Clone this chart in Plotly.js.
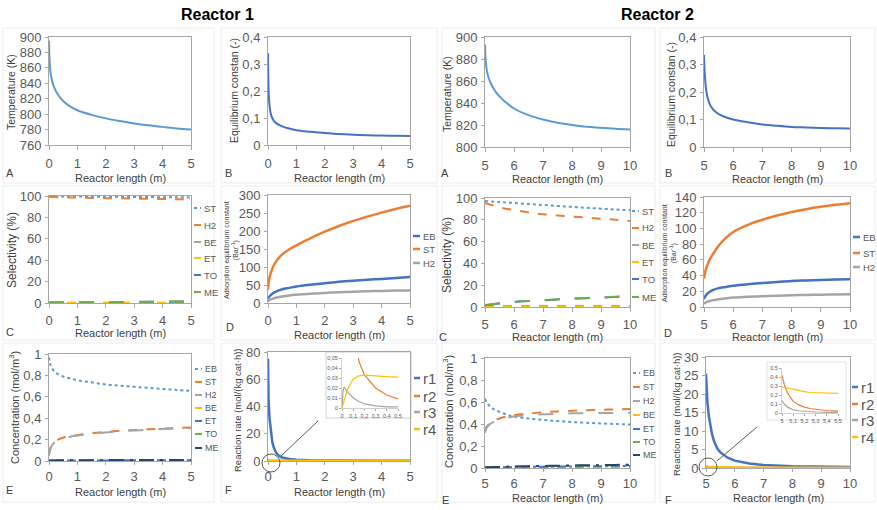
<!DOCTYPE html>
<html><head><meta charset="utf-8">
<script src="https://cdn.plot.ly/plotly-3.0.1.min.js"></script>
<style>html,body{margin:0;padding:0;background:#fff}#chart{width:877px;height:510px}</style>
</head><body><div id="chart"></div>
<script>
// ---------------- DATA ----------------
// A: temperature, B: equilibrium constant
const len_r1_A = [0, 0.01, 0.03, 0.06, 0.1, 0.15, 0.2, 0.3, 0.4, 0.5, 0.7, 1, 1.5, 2, 2.5, 3, 3.5, 4, 4.5, 5];
const temp_r1  = [895, 878, 864, 852, 845, 838, 833, 826, 821, 817, 811, 805, 799, 794.5, 791, 788, 785.5, 783.5, 781.5, 780];
const keq_r1   = [0.34, 0.25, 0.18, 0.14, 0.115, 0.1, 0.09, 0.08, 0.074, 0.069, 0.062, 0.055, 0.049, 0.044, 0.041, 0.038, 0.036, 0.035, 0.034, 0.033];
const len_r2_A = [5, 5.01, 5.03, 5.06, 5.1, 5.15, 5.2, 5.3, 5.4, 5.5, 5.7, 6, 6.5, 7, 7.5, 8, 8.5, 9, 9.5, 10];
const temp_r2  = [893, 885, 877, 870, 865, 861, 858, 853, 849, 846, 841, 835, 829, 825, 822, 820, 818.5, 817.5, 816.5, 816];
const keq_r2   = [0.335, 0.3, 0.26, 0.22, 0.19, 0.17, 0.155, 0.138, 0.128, 0.12, 0.11, 0.1, 0.09, 0.082, 0.077, 0.073, 0.071, 0.069, 0.068, 0.067];

// C: selectivity (%)
const len_r1_sel = [0, 0.5, 1, 1.5, 2, 2.5, 3, 3.5, 4, 4.5, 5];
const sel_r1_ST = [99.7, 99.6, 99.5, 99.4, 99.3, 99.2, 99.1, 99.0, 98.9, 98.8, 98.7];
const sel_r1_H2 = [99.2, 98.8, 98.5, 98.2, 98.0, 97.8, 97.6, 97.4, 97.2, 97.0, 96.8];
const sel_r1_BE = [0.3, 0.3, 0.3, 0.3, 0.3, 0.3, 0.3, 0.3, 0.3, 0.3, 0.3];
const sel_r1_ET = [0.1, 0.1, 0.1, 0.1, 0.1, 0.1, 0.1, 0.1, 0.1, 0.1, 0.1];
const sel_r1_TO = [0.4, 0.5, 0.6, 0.7, 0.8, 0.9, 1.0, 1.1, 1.2, 1.3, 1.4];
const sel_r1_ME = [0.5, 0.6, 0.7, 0.8, 0.9, 1.0, 1.1, 1.2, 1.3, 1.4, 1.6];
const len_r2_sel = [5, 5.5, 6, 6.5, 7, 7.5, 8, 8.5, 9, 9.5, 10];
const sel_r2_ST = [97.2, 96.3, 95.4, 94.5, 93.6, 92.7, 91.9, 91.0, 90.2, 89.4, 88.7];
const sel_r2_H2 = [95.4, 91.5, 88.9, 86.8, 85.1, 84.0, 83.0, 82.0, 81.0, 80.0, 79.0];
const sel_r2_BE = [1, 1, 1, 1, 1, 1, 1, 1, 1, 1, 1];
const sel_r2_ET = [0.2, 0.2, 0.2, 0.2, 0.2, 0.2, 0.2, 0.2, 0.2, 0.2, 0.2];
const sel_r2_TO = [1.5, 3.3, 4.6, 5.4, 6.1, 6.9, 7.6, 8.1, 8.6, 9.2, 9.8];
const sel_r2_ME = [1.8, 3.5, 4.8, 5.6, 6.3, 7.0, 7.7, 8.3, 8.8, 9.4, 10.0];

// D: adsorption equilibrium constant (Bar^-1)
const len_r1_ads = [0, 0.02, 0.05, 0.1, 0.2, 0.3, 0.5, 0.75, 1, 1.5, 2, 2.5, 3, 3.5, 4, 4.5, 5];
const ads_r1_EB = [12, 15, 18, 22, 28, 32, 38, 42, 46, 51, 55, 59, 62, 64.5, 67, 69.5, 72];
const ads_r1_ST = [37, 55, 70, 84, 104, 117, 135, 149, 160, 180, 198, 214, 228, 240, 251, 261, 270];
const ads_r1_H2 = [4, 6, 8, 10, 13, 15, 18, 21, 23, 26, 28, 30, 31.5, 32.5, 33.5, 34.5, 35];
const len_r2_ads = [5, 5.02, 5.05, 5.1, 5.2, 5.3, 5.5, 5.75, 6, 6.5, 7, 7.5, 8, 8.5, 9, 9.5, 10];
const ads_r2_EB = [10, 12, 14, 16.5, 19.5, 21.5, 24, 25.5, 27, 29, 30.5, 31.8, 33, 33.8, 34.5, 35, 35.3];
const ads_r2_ST = [36, 41, 46, 52, 61, 67, 78, 88, 95.5, 104.5, 111, 116.5, 121, 124.5, 127.5, 130, 132];
const ads_r2_H2 = [4, 4.8, 5.5, 6.5, 7.7, 8.5, 9.8, 11, 12, 13, 13.8, 14.4, 14.9, 15.3, 15.6, 15.9, 16.1];

// E: concentration (mol/m3)
const len_r1_conc = [0, 0.02, 0.05, 0.1, 0.2, 0.3, 0.5, 0.75, 1, 1.5, 2, 2.5, 3, 3.5, 4, 4.5, 5];
const conc_r1_EB = [0.97, 0.93, 0.9, 0.87, 0.835, 0.815, 0.79, 0.77, 0.755, 0.735, 0.715, 0.703, 0.693, 0.684, 0.674, 0.664, 0.655];
const conc_r1_ST = [0.056, 0.09, 0.12, 0.15, 0.18, 0.198, 0.218, 0.232, 0.243, 0.26, 0.272, 0.282, 0.29, 0.297, 0.303, 0.308, 0.312];
const conc_r1_H2 = [0.05, 0.085, 0.115, 0.145, 0.175, 0.193, 0.213, 0.227, 0.238, 0.255, 0.267, 0.277, 0.285, 0.292, 0.298, 0.303, 0.307];
const conc_r1_BE = [0.001, 0.001, 0.001, 0.001, 0.001, 0.001, 0.001, 0.001, 0.001, 0.001, 0.001, 0.001, 0.001, 0.001, 0.001, 0.001, 0.001];
const conc_r1_ET = [0.003, 0.003, 0.003, 0.004, 0.004, 0.004, 0.004, 0.005, 0.005, 0.005, 0.005, 0.006, 0.006, 0.006, 0.006, 0.006, 0.006];
const conc_r1_TO = [0.002, 0.002, 0.003, 0.003, 0.003, 0.004, 0.004, 0.005, 0.005, 0.006, 0.006, 0.007, 0.007, 0.007, 0.008, 0.008, 0.008];
const conc_r1_ME = [0.004, 0.004, 0.005, 0.005, 0.005, 0.006, 0.006, 0.007, 0.007, 0.008, 0.008, 0.009, 0.009, 0.009, 0.01, 0.01, 0.01];
const len_r2_conc = [5, 5.05, 5.1, 5.2, 5.3, 5.5, 5.75, 6, 6.5, 7, 7.5, 8, 8.5, 9, 9.5, 10];
const conc_r2_EB = [0.63, 0.6, 0.58, 0.555, 0.535, 0.51, 0.485, 0.468, 0.45, 0.437, 0.427, 0.418, 0.411, 0.405, 0.4, 0.396];
const conc_r2_ST = [0.33, 0.37, 0.39, 0.415, 0.43, 0.45, 0.468, 0.48, 0.495, 0.506, 0.514, 0.52, 0.525, 0.529, 0.533, 0.536];
const conc_r2_H2 = [0.32, 0.36, 0.38, 0.405, 0.42, 0.44, 0.457, 0.468, 0.48, 0.488, 0.493, 0.497, 0.499, 0.5, 0.501, 0.502];
const conc_r2_BE = [0.003, 0.003, 0.003, 0.003, 0.003, 0.003, 0.003, 0.003, 0.003, 0.003, 0.003, 0.003, 0.003, 0.003, 0.003, 0.003];
const conc_r2_ET = [0.004, 0.005, 0.005, 0.006, 0.006, 0.007, 0.008, 0.009, 0.01, 0.012, 0.013, 0.014, 0.015, 0.016, 0.017, 0.018];
const conc_r2_TO = [0.004, 0.005, 0.005, 0.006, 0.007, 0.008, 0.01, 0.012, 0.014, 0.016, 0.018, 0.019, 0.021, 0.022, 0.023, 0.024];
const conc_r2_ME = [0.005, 0.006, 0.006, 0.007, 0.008, 0.01, 0.012, 0.014, 0.017, 0.019, 0.021, 0.023, 0.025, 0.026, 0.028, 0.03];

// F: reaction rate (mol/(kg cat.h))
const len_r1_rate = [0, 0.01, 0.02, 0.05, 0.1, 0.15, 0.2, 0.25, 0.3, 0.4, 0.5, 0.75, 1, 1.5, 2, 3, 4, 5];
const rate_r1_r1 = [75, 55, 45, 32, 21, 14, 10, 7.5, 5.5, 3.5, 2.5, 1.4, 0.9, 0.5, 0.35, 0.2, 0.13, 0.1];
const rate_r1_r2 = [0.9, 0.55, 0.4, 0.2, 0.09, 0.047, 0.033, 0.026, 0.02, 0.013, 0.009, 0.005, 0.003, 0.002, 0.001, 0.0006, 0.0004, 0.0003];
const rate_r1_r3 = [0, 0.018, 0.021, 0.016, 0.01, 0.0065, 0.0042, 0.003, 0.0021, 0.0012, 0.0008, 0.0004, 0.0002, 0.0001, 0.0001, 0, 0, 0];
const rate_r1_r4 = [0, 0.004, 0.008, 0.019, 0.029, 0.0322, 0.0328, 0.0327, 0.0322, 0.0313, 0.0302, 0.028, 0.026, 0.023, 0.021, 0.018, 0.016, 0.014];
const len_r2_rate = [5, 5.01, 5.02, 5.05, 5.1, 5.15, 5.2, 5.25, 5.3, 5.4, 5.5, 5.75, 6, 6.5, 7, 8, 9, 10];
const rate_r2_r1 = [25.5, 23, 21, 17.5, 14, 11.5, 9.5, 8, 6.8, 5.2, 4.2, 2.8, 2, 1.2, 0.8, 0.5, 0.35, 0.28];
const rate_r2_r2 = [0.42, 0.37, 0.32, 0.22, 0.13, 0.09, 0.065, 0.05, 0.04, 0.028, 0.02, 0.012, 0.008, 0.005, 0.003, 0.002, 0.0015, 0.001];
const rate_r2_r3 = [0.14, 0.12, 0.1, 0.065, 0.035, 0.025, 0.018, 0.014, 0.011, 0.008, 0.006, 0.004, 0.003, 0.002, 0.001, 0.0005, 0.0003, 0.0002];
const rate_r2_r4 = [0.29, 0.287, 0.284, 0.276, 0.262, 0.25, 0.238, 0.228, 0.218, 0.2, 0.185, 0.155, 0.13, 0.1, 0.08, 0.055, 0.04, 0.03];

// ---------------- DRAWING ----------------
const W = 877, H = 510;
const FONT = '"Liberation Sans", Arial, sans-serif';
const px = v => v / W;
const py = v => 1 - v / H;
const C_LB = '#5B9BD5', C_OR = '#ED7D31', C_GR = '#A5A5A5', C_YE = '#FFC000',
      C_BL = '#4472C4', C_GN = '#70AD47', C_DB = '#264478';

const layout = {
  width: W, height: H, margin: {l: 0, r: 0, t: 0, b: 0},
  paper_bgcolor: '#fff', plot_bgcolor: '#fff', showlegend: false,
  separators: ',.', font: {family: FONT, color: '#404040'},
  shapes: [], annotations: []
};
const traces = [];

// panel geometry (pixels); row decides x tick-label offset
const panels = [
  {x: [49, 191],  y: [37, 145],  xr: [0, 5],  xd: 1, yr: [760, 900], yd: 20, row: 1},
  {x: [268, 410], y: [37, 145],  xr: [0, 5],  xd: 1, yr: [0, 0.4], yd: 0.1, row: 1},
  {x: [485, 630], y: [37, 147],  xr: [5, 10], xd: 1, yr: [800, 900], yd: 20, row: 1},
  {x: [704, 850], y: [37, 147],  xr: [5, 10], xd: 1, yr: [0, 0.4], yd: 0.1, row: 1},
  {x: [49, 191],  y: [196, 303], xr: [0, 5],  xd: 1, yr: [0, 100], yd: 20, row: 2},
  {x: [268, 410], y: [195, 303], xr: [0, 5],  xd: 1, yr: [0, 300], yd: 50, row: 2},
  {x: [485, 630], y: [198, 307], xr: [5, 10], xd: 1, yr: [0, 100], yd: 20, row: 2},
  {x: [704, 850], y: [197, 307], xr: [5, 10], xd: 1, yr: [0, 140], yd: 20, row: 2},
  {x: [49, 191],  y: [354, 461], xr: [0, 5],  xd: 1, yr: [0, 1], yd: 0.2, row: 3},
  {x: [268, 410], y: [352, 461], xr: [0, 5],  xd: 1, yr: [0, 80], yd: 20, row: 3},
  {x: [485, 630], y: [358, 468], xr: [5, 10], xd: 1, yr: [0, 1], yd: 0.2, row: 3},
  {x: [706, 850], y: [357, 468], xr: [5, 10], xd: 1, yr: [0, 30], yd: 5, row: 3},
  {x: [342, 398], y: [358, 408], xr: [0, 0.5], xd: 0.1, yr: [0, 0.05], yd: 0.01, inset: true},
  {x: [782, 838], y: [368, 413], xr: [5, 5.5], xd: 0.1, yr: [0, 0.5], yd: 0.1, inset: true}
];

// light chart-area frames
[[3, 214, 28, 183], [221, 437, 28, 183], [442, 655, 28, 183], [660, 875, 28, 183],
 [3, 214, 186, 340], [221, 437, 186, 340], [442, 655, 186, 340], [660, 875, 186, 340],
 [3, 214, 343, 502], [221, 437, 343, 502], [442, 655, 343, 502], [660, 875, 343, 502]].forEach(f => {
  layout.shapes.push({type: 'rect', xref: 'paper', yref: 'paper', layer: 'below',
    x0: px(f[0]), x1: px(f[1]), y0: py(f[3]), y1: py(f[2]), line: {color: '#ececec', width: 1}});
});
// inset frames
layout.shapes.push({type: 'rect', xref: 'paper', yref: 'paper', layer: 'below',
  x0: px(326), x1: px(411), y0: py(418), y1: py(352), line: {color: '#cfcfcf', width: 1}, fillcolor: '#fff'});
layout.shapes.push({type: 'rect', xref: 'paper', yref: 'paper', layer: 'below',
  x0: px(767), x1: px(846), y0: py(420), y1: py(362), line: {color: '#e2e2e2', width: 1}, fillcolor: '#fff'});

const xStand = {1: 2, 2: 1, 3: 0};
panels.forEach((p, i) => {
  const s = i === 0 ? '' : String(i + 1);
  const base = {
    showline: true, linecolor: p.inset ? '#d0d0d0' : '#a6a6a6', linewidth: 1, mirror: !p.inset,
    ticks: 'outside', tickwidth: 1, tickcolor: '#a6a6a6',
    showgrid: false, zeroline: false, fixedrange: true,
    tickfont: {family: FONT, size: p.inset ? 5.5 : 13, color: '#595959'}
  };
  layout['xaxis' + s] = Object.assign({}, base, {domain: [px(p.x[0]), px(p.x[1])], range: p.xr,
    tick0: p.xr[0], dtick: p.xd, anchor: 'y' + s, ticklen: p.inset ? 2 : (p.row === 3 ? 3 : 4),
    ticklabelstandoff: p.inset ? 0 : xStand[p.row]});
  layout['yaxis' + s] = Object.assign({}, base, {domain: [py(p.y[1]), py(p.y[0])], range: p.yr,
    tick0: 0, dtick: p.yd, anchor: 'x' + s, ticklen: p.inset ? 2 : 3, ticklabelstandoff: p.inset ? 0 : 1});
});

function ax(n) { return n === 1 ? '' : String(n); }
function addSeries(n, xs, list, shape) {
  list.forEach(sr => {
    traces.push({x: xs, y: sr.y, name: sr.name, mode: 'lines', xaxis: 'x' + ax(n), yaxis: 'y' + ax(n),
      hoverinfo: 'skip', showlegend: false,
      line: {color: sr.color, width: sr.width || 2, dash: sr.dash || 'solid', shape: shape || 'linear'}});
  });
}
function addLegend(list, xSym, ys, fs, symLen) {
  list.forEach((sr, k) => {
    layout.shapes.push({type: 'line', xref: 'paper', yref: 'paper', x0: px(xSym), x1: px(xSym + symLen),
      y0: py(ys[k]), y1: py(ys[k]), line: {color: sr.color, width: sr.width || 2, dash: sr.dash || 'solid'}});
    layout.annotations.push({xref: 'paper', yref: 'paper', x: px(xSym + symLen + 1), y: py(ys[k]),
      xanchor: 'left', yanchor: 'middle', text: sr.name, showarrow: false,
      font: {family: FONT, size: fs, color: '#595959'}});
  });
}

// A, B
addSeries(1, len_r1_A, [{name: 'T', y: temp_r1, color: C_LB, width: 2}], 'spline');
addSeries(2, len_r1_A, [{name: 'K', y: keq_r1, color: C_BL, width: 2}], 'spline');
addSeries(3, len_r2_A, [{name: 'T', y: temp_r2, color: C_LB, width: 2}], 'spline');
addSeries(4, len_r2_A, [{name: 'K', y: keq_r2, color: C_BL, width: 2}], 'spline');

// C
const selR1 = [
  {name: 'ST', y: sel_r1_ST, color: C_LB, dash: 'dot'},
  {name: 'H2', y: sel_r1_H2, color: C_OR, dash: 'dash'},
  {name: 'BE', y: sel_r1_BE, color: C_GR, dash: 'dash'},
  {name: 'ET', y: sel_r1_ET, color: C_YE, dash: 'dash'},
  {name: 'TO', y: sel_r1_TO, color: C_BL, dash: 'longdash'},
  {name: 'ME', y: sel_r1_ME, color: C_GN, dash: 'longdash'}];
const selR2 = [
  {name: 'ST', y: sel_r2_ST, color: C_LB, dash: 'dot'},
  {name: 'H2', y: sel_r2_H2, color: C_OR, dash: 'dash'},
  {name: 'BE', y: sel_r2_BE, color: C_GR, dash: 'dash'},
  {name: 'ET', y: sel_r2_ET, color: C_YE, dash: 'dash'},
  {name: 'TO', y: sel_r2_TO, color: C_BL, dash: 'longdash'},
  {name: 'ME', y: sel_r2_ME, color: C_GN, dash: 'longdash'}];
addSeries(5, len_r1_sel, selR1, 'spline');
addSeries(7, len_r2_sel, selR2, 'spline');
addLegend(selR1, 194, [208, 225, 242, 258, 275, 292], 9.5, 7);
addLegend(selR2, 632, [211, 228, 245, 262, 279, 297], 9.5, 7);

// D
const adsR1 = [
  {name: 'EB', y: ads_r1_EB, color: C_BL, width: 2.5},
  {name: 'ST', y: ads_r1_ST, color: C_OR, width: 2.5},
  {name: 'H2', y: ads_r1_H2, color: C_GR, width: 2.5}];
const adsR2 = [
  {name: 'EB', y: ads_r2_EB, color: C_BL, width: 2.5},
  {name: 'ST', y: ads_r2_ST, color: C_OR, width: 2.5},
  {name: 'H2', y: ads_r2_H2, color: C_GR, width: 2.5}];
addSeries(6, len_r1_ads, adsR1, 'spline');
addSeries(8, len_r2_ads, adsR2, 'spline');
addLegend(adsR1, 413, [236, 249, 263], 9.5, 7);
addLegend(adsR2, 853, [237, 253, 267], 9.5, 7);

// E
const concR1 = [
  {name: 'EB', y: conc_r1_EB, color: C_LB, dash: 'dot'},
  {name: 'ST', y: conc_r1_ST, color: C_OR, dash: 'dash'},
  {name: 'H2', y: conc_r1_H2, color: C_GR, dash: 'longdash'},
  {name: 'BE', y: conc_r1_BE, color: C_YE, dash: 'dash'},
  {name: 'ET', y: conc_r1_ET, color: C_BL, dash: 'dashdot'},
  {name: 'TO', y: conc_r1_TO, color: C_GN, dash: 'longdashdot'},
  {name: 'ME', y: conc_r1_ME, color: C_DB, dash: 'longdashdot'}];
const concR2 = [
  {name: 'EB', y: conc_r2_EB, color: C_LB, dash: 'dot'},
  {name: 'ST', y: conc_r2_ST, color: C_OR, dash: 'dash'},
  {name: 'H2', y: conc_r2_H2, color: C_GR, dash: 'longdash'},
  {name: 'BE', y: conc_r2_BE, color: C_YE, dash: 'dash'},
  {name: 'ET', y: conc_r2_ET, color: C_BL, dash: 'dashdot'},
  {name: 'TO', y: conc_r2_TO, color: C_GN, dash: 'longdashdot'},
  {name: 'ME', y: conc_r2_ME, color: C_DB, dash: 'longdashdot'}];
addSeries(9, len_r1_conc, concR1, 'spline');
addSeries(11, len_r2_conc, concR2, 'spline');
addLegend(concR1, 195, [369, 382, 395, 408, 421, 434, 448], 9, 7);
addLegend(concR2, 633, [373, 387, 401, 415, 429, 442, 455], 9, 7);

// F + insets
const rateR1 = [
  {name: 'r1', y: rate_r1_r1, color: C_BL, width: 2.5},
  {name: 'r2', y: rate_r1_r2, color: C_OR, width: 2.5},
  {name: 'r3', y: rate_r1_r3, color: C_GR, width: 2.5},
  {name: 'r4', y: rate_r1_r4, color: C_YE, width: 2.5}];
const rateR2 = [
  {name: 'r1', y: rate_r2_r1, color: C_BL, width: 2.5},
  {name: 'r2', y: rate_r2_r2, color: C_OR, width: 2.5},
  {name: 'r3', y: rate_r2_r3, color: C_GR, width: 2.5},
  {name: 'r4', y: rate_r2_r4, color: C_YE, width: 2.5}];
addSeries(10, len_r1_rate, rateR1);
addSeries(12, len_r2_rate, rateR2);
addSeries(13, len_r1_rate, rateR1.map(s => Object.assign({}, s, {width: 1.2})));
addSeries(14, len_r2_rate, rateR2.map(s => Object.assign({}, s, {width: 1.2})));
addLegend(rateR1, 414, [378, 396, 412, 429], 15, 6);
addLegend(rateR2, 852, [387, 404, 420, 437], 15, 6);

// zoom circles and pointer lines
[[271, 463, 318, 421, 281, 456], [708, 467, 757, 427, 717, 461]].forEach(c => {
  layout.shapes.push({type: 'circle', xref: 'paper', yref: 'paper', x0: px(c[0] - 9), x1: px(c[0] + 9),
    y0: py(c[1] + 9), y1: py(c[1] - 9), line: {color: '#595959', width: 1}});
  layout.shapes.push({type: 'line', xref: 'paper', yref: 'paper', x0: px(c[4]), y0: py(c[5]),
    x1: px(c[2]), y1: py(c[3]), line: {color: '#595959', width: 1}});
});

// text annotations
function note(text, x, y, size, opts) {
  layout.annotations.push(Object.assign({xref: 'paper', yref: 'paper', x: px(x), y: py(y), text: text,
    showarrow: false, xanchor: 'center', yanchor: 'middle',
    font: {family: FONT, size: size, color: '#404040'}}, opts || {}));
}
note('<b>Reactor 1</b>', 217, 14, 16, {font: {family: FONT, size: 16, color: '#000'}});
note('<b>Reactor 2</b>', 657, 14, 16, {font: {family: FONT, size: 16, color: '#000'}});

const XT = 'Reactor length (m)';
[[120, 178], [339, 178], [557, 179], [777, 179],
 [120, 333], [339, 335], [557, 337], [777, 337],
 [120, 492], [339, 492], [557, 498], [778, 498]].forEach(t => note(XT, t[0], t[1], 11));

[['A', 10, 173], ['B', 228, 173], ['A', 445, 173], ['B', 668, 173],
 ['C', 10, 332], ['D', 230, 327], ['C', 443, 337], ['D', 668, 333],
 ['E', 9, 490], ['F', 228, 490], ['E', 445, 500], ['F', 668, 500]].forEach(t => note(t[0], t[1], t[2], 11));

const rot = {textangle: -90};
note('Temperature (K)', 11, 92, 10.5, rot);
note('Temperature (K)', 447, 94, 10.5, rot);
note('Equilibrium constan (-)', 234, 91, 10.5, rot);
note('Equilibrium constan (-)', 671, 95, 10.5, rot);
note('Selectivity (%)', 12, 250, 12, rot);
note('Selectivity (%)', 447, 255, 12, rot);
note('Adsorption equilibrium constant<br>(Bar<sup>-1</sup>)', 231, 250, 7, rot);
note('Adsorption equilibrium constant<br>(Bar<sup>-1</sup>)', 669, 253, 7, rot);
note('Concentration (mol/m<sup>3</sup>)', 14, 408, 11, rot);
note('Concentration (mol/m<sup>3</sup>)', 448, 412, 11, rot);
note('Reaction rate (mol/(kg cat·h))', 237, 410, 9.5, rot);
note('Reaction rate (mol/(kg cat·h))', 676, 414, 9.5, rot);

Plotly.newPlot('chart', traces, layout, {staticPlot: true, displayModeBar: false});
</script></body></html>
